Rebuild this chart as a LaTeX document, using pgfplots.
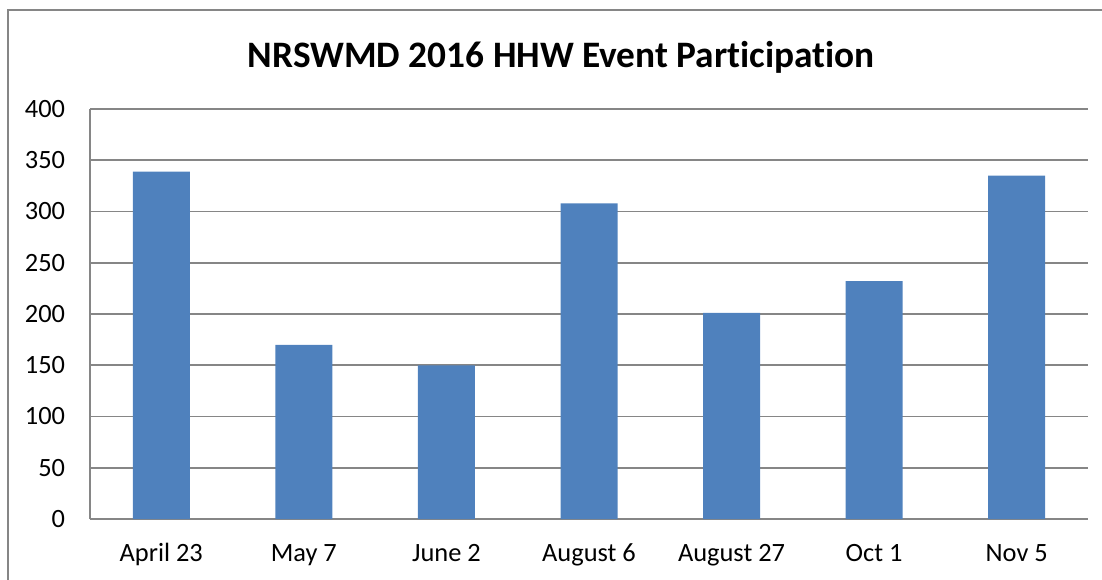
\documentclass[border=0pt]{standalone}
\usepackage{pgfplots}
\pgfplotsset{compat=1.18}
\usepackage{fontspec}
\setmainfont{Carlito}[RawFeature=-liga]
\definecolor{barblue}{HTML}{4F81BD}
\definecolor{gridgray}{HTML}{868686}
\begin{document}
\begin{tikzpicture}
\useasboundingbox (0,0) rectangle (826.5pt,434.25pt);
\draw[gridgray, line width=1.2pt] (6.2pt,-2pt) -- (6.2pt,426.75pt) -- (830pt,426.75pt);
\node[font=\fontsize{28}{33}\selectfont\bfseries, anchor=center] at (421pt,391pt) {NRSWMD 2016 HHW Event Participation};
\begin{axis}[
  at={(67.5pt,45pt)}, anchor=south west,
  scale only axis, width=748.5pt, height=307.5pt,
  ybar, bar width=42.75pt,
  xmin=-0.5, xmax=6.5, ymin=0, ymax=400,
  ytick={0,50,...,400},
  xtick=data,
  xticklabels={April 23, May 7, June 2, August 6, August 27, Oct 1, Nov 5},
  axis x line*=bottom, axis y line*=left,
  x axis line style={-, gridgray, line width=1.5pt},
  y axis line style={-, gridgray, line width=1.5pt},
  ymajorgrids, grid style={gridgray, line width=1.4pt},
  major tick length=0pt,
  tick style={draw=none},
  /pgf/number format/assume math mode=true,
  ticklabel style={font=\fontsize{19.8}{23}\selectfont, text=black},
  y tick label style={anchor=east, inner sep=0pt, xshift=-18.5pt},
  x tick label style={anchor=base, inner sep=0pt, yshift=-31.5pt},
]
\addplot[fill=barblue, draw=none] coordinates {
  (0,339) (1,170) (2,150) (3,308) (4,201) (5,232) (6,335)
};
\end{axis}
\end{tikzpicture}
\end{document}
